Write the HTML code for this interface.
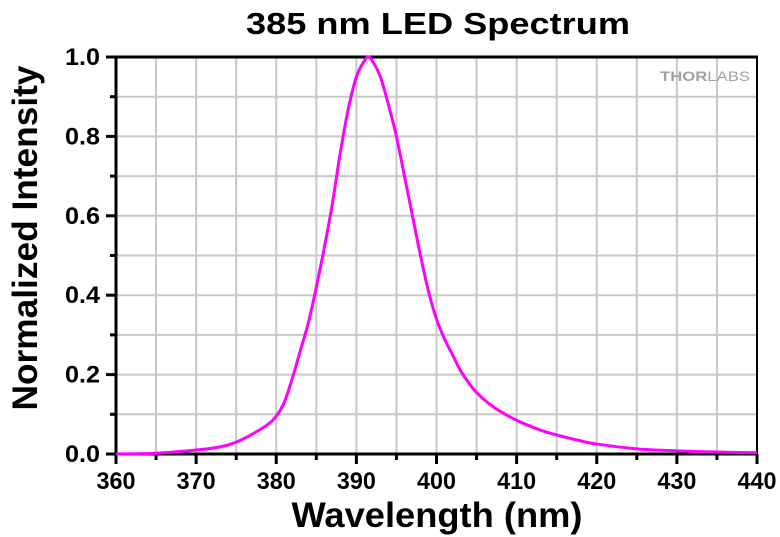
<!DOCTYPE html><html><head><style>body{margin:0;background:#fff}svg{display:block;font-family:"Liberation Sans",Arial,sans-serif;font-weight:bold}</style></head><body>
<svg id="s" width="780" height="537" xmlns="http://www.w3.org/2000/svg">
<text x="438" y="34" font-size="31" text-anchor="middle" textLength="384" lengthAdjust="spacingAndGlyphs">385 nm LED Spectrum</text>
<g id="grid" stroke="#c8c8c8" stroke-width="2"></g>
<rect x="116" y="57" width="641" height="397" fill="none" stroke="#000" stroke-width="2"/>
<line x1="116" y1="56" x2="116" y2="455" stroke="#000" stroke-width="3"/>
<line x1="115" y1="454" x2="758" y2="454" stroke="#000" stroke-width="3"/>
<line x1="115" y1="57" x2="758" y2="57" stroke="#000" stroke-width="3"/>
<g id="ticks" stroke="#000" stroke-width="3"></g>
<g id="lab" font-size="24"></g>
<text x="660" y="81" font-size="14" fill="#a0a0a0" textLength="90" lengthAdjust="spacingAndGlyphs">THOR<tspan font-weight="normal">LABS</tspan></text>
<path id="c" fill="none" stroke="#ff00ff" stroke-width="3"/>
<text x="437" y="527" font-size="35" text-anchor="middle" textLength="291" lengthAdjust="spacingAndGlyphs">Wavelength (nm)</text>
<text transform="translate(37,238) rotate(-90)" font-size="35" text-anchor="middle" textLength="345" lengthAdjust="spacingAndGlyphs">Normalized Intensity</text>
</svg>
<script>
const X=v=>116+(v-360)/80*641,Y=v=>454-v*397;
let g='',t='',l='';
for(let i=1;i<16;i++){let x=X(360+5*i);g+=`<line x1="${x}" y1="57" x2="${x}" y2="454"/>`;}
for(let i=1;i<10;i++){let y=Y(i/10);g+=`<line x1="116" y1="${y}" x2="757" y2="${y}"/>`;}
for(let i=0;i<=16;i++){let x=X(360+5*i);t+=`<line x1="${x}" y1="454" x2="${x}" y2="${i%2?460:464}"/>`;if(i%2==0)l+=`<text x="${x}" y="489" text-anchor="middle" textLength="39" lengthAdjust="spacingAndGlyphs">${360+5*i}</text>`;}
for(let i=0;i<=10;i++){let y=Y(i/10);t+=`<line x1="116" y1="${y}" x2="${i%2?110:106}" y2="${y}"/>`;if(i%2==0)l+=`<text x="100" y="${y+8}" text-anchor="end" textLength="35" lengthAdjust="spacingAndGlyphs">${(i/10).toFixed(1)}</text>`;}
document.getElementById('grid').innerHTML=g;document.getElementById('ticks').innerHTML=t;document.getElementById('lab').innerHTML=l;
const P=[[360,0],[365,0.002],[370,0.01],[373,0.018],[375,0.03],[377,0.05],[379,0.075],[380,0.095],[381,0.13],[382,0.19],[383,0.26],[384,0.33],[385,0.42],[386,0.52],[387,0.63],[388,0.76],[389,0.87],[390,0.95],[391,0.99],[391.5,1],[392,0.99],[393,0.95],[394,0.88],[395,0.8],[396,0.7],[397,0.6],[398,0.5],[399,0.41],[400,0.34],[401,0.29],[402,0.25],[403,0.21],[404,0.18],[405,0.155],[407,0.12],[410,0.085],[413,0.06],[415,0.048],[418,0.033],[420,0.025],[425,0.013],[430,0.008],[435,0.005],[440,0.003]].map(p=>[X(p[0]),Y(p[1])]);
let d=`M${P[0][0]},${P[0][1]}`;
for(let i=0;i<P.length-1;i++){let p0=P[Math.max(i-1,0)],p1=P[i],p2=P[i+1],p3=P[Math.min(i+2,P.length-1)];
d+=`C${p1[0]+(p2[0]-p0[0])/6},${p1[1]+(p2[1]-p0[1])/6} ${p2[0]-(p3[0]-p1[0])/6},${p2[1]-(p3[1]-p1[1])/6} ${p2[0]},${p2[1]}`;}
document.getElementById('c').setAttribute('d',d);
</script></body></html>
